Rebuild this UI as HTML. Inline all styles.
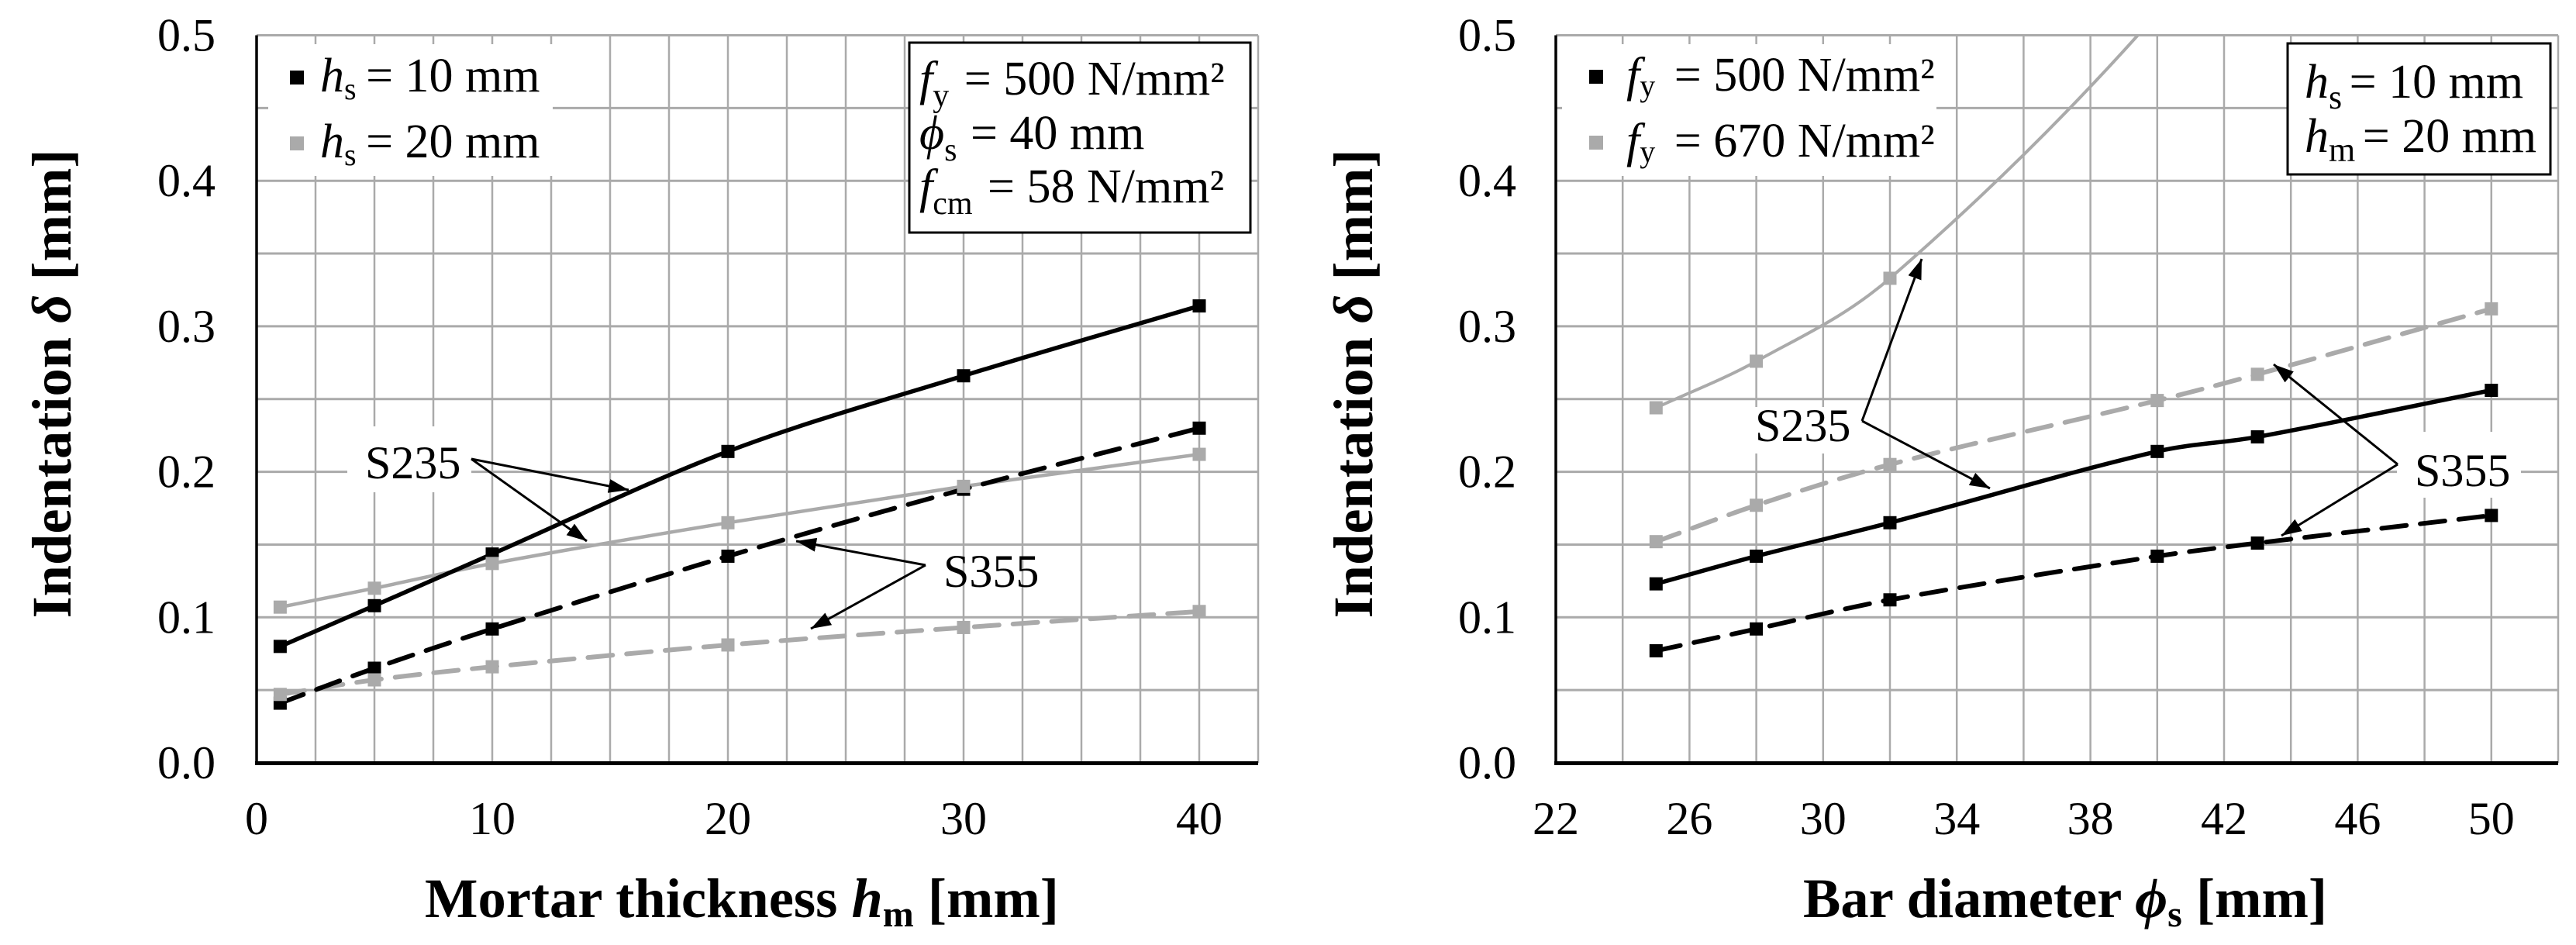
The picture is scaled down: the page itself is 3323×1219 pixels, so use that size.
<!DOCTYPE html>
<html lang="en">
<head>
<meta charset="utf-8">
<title>Indentation charts</title>
<style>
html,body{margin:0;padding:0;background:#fff;}
svg{display:block;}
text{font-family:"Liberation Serif","DejaVu Serif",serif;fill:#000;}
.tick{font-size:60px;}
.title{font-size:72.5px;font-weight:bold;}
.lab{font-size:62px;}
.ann{font-size:60px;}
.arrow{stroke:#000;stroke-width:3;fill:none;}
.box{fill:#fff;stroke:#000;stroke-width:3;}
.mask{fill:#fff;stroke:none;}
</style>
</head>
<body>
<svg id="figure" xmlns="http://www.w3.org/2000/svg" width="3323" height="1219" viewBox="0 0 3323 1219">
  <defs>
    <marker id="head" markerUnits="userSpaceOnUse" markerWidth="28" markerHeight="20" refX="26" refY="9" orient="auto">
      <polygon points="0,0 26,9 0,18" fill="#000"></polygon>
    </marker>
    <clipPath id="clip-left"><rect x="331" y="45" width="1294" height="940"></rect></clipPath>
    <clipPath id="clip-right"><rect x="2007" y="45" width="1295" height="940"></rect></clipPath>
  </defs>
  <rect x="0" y="0" width="3323" height="1219" fill="#fff"></rect>

  <g id="left-grid"></g>
  <g>
    <rect class="mask" x="346" y="57" width="367" height="170"></rect>
    <rect class="mask" x="448" y="550" width="160" height="85"></rect>
  </g>
  <g id="right-grid"></g>
  <g>
    <rect class="mask" x="2015" y="57" width="483" height="170"></rect>
    <rect class="mask" x="2250" y="525" width="150" height="60"></rect>
    <rect class="mask" x="3092" y="557" width="160" height="85"></rect>
  </g>
  <g id="left-axes"></g>
  <g id="right-axes"></g>
  <g id="left-series" clip-path="url(#clip-left)"></g>
  <g id="right-series" clip-path="url(#clip-right)"></g>

  <!-- Left legend -->
  <g>
    <rect x="374" y="91" width="18" height="18" fill="#000"></rect>
    <text class="lab" x="413" y="118"><tspan font-style="italic">h</tspan><tspan font-size="40" dy="10">s</tspan><tspan dy="-10" dx="-3"> = 10 mm</tspan></text>
    <rect x="374" y="176" width="18" height="18" fill="#aaa"></rect>
    <text class="lab" x="413" y="203"><tspan font-style="italic">h</tspan><tspan font-size="40" dy="10">s</tspan><tspan dy="-10" dx="-3"> = 20 mm</tspan></text>
  </g>
  <!-- Left info box -->
  <g>
    <rect class="box" x="1173" y="55" width="440" height="245"></rect>
    <text class="lab" x="1186" y="122"><tspan font-style="italic">f</tspan><tspan font-size="42" dy="15">y</tspan><tspan dy="-15" dx="4"> = 500 N/mm²</tspan></text>
    <text class="lab" x="1186" y="192"><tspan font-style="italic">ϕ</tspan><tspan font-size="42" dy="15">s</tspan><tspan dy="-15" dx="2"> = 40 mm</tspan></text>
    <text class="lab" x="1186" y="261"><tspan font-style="italic">f</tspan><tspan font-size="42" dy="15">cm</tspan><tspan dy="-15" dx="4"> = 58 N/mm²</tspan></text>
  </g>
  <!-- Left annotations -->
  <g>
    <text class="ann" x="471" y="617">S235</text>
    <line class="arrow" x1="608" y1="592" x2="811" y2="632" marker-end="url(#head)"></line>
    <line class="arrow" x1="608" y1="592" x2="757" y2="698" marker-end="url(#head)"></line>
    <text class="ann" x="1217" y="757">S355</text>
    <line class="arrow" x1="1194" y1="729" x2="1027" y2="698" marker-end="url(#head)"></line>
    <line class="arrow" x1="1194" y1="729" x2="1046" y2="811" marker-end="url(#head)"></line>
  </g>

  <!-- Right legend -->
  <g>
    <rect x="2050" y="90" width="18" height="18" fill="#000"></rect>
    <text class="lab" x="2098" y="117"><tspan font-style="italic">f</tspan><tspan font-size="40" dy="7">y</tspan><tspan dy="-7" dx="9"> = 500 N/mm²</tspan></text>
    <rect x="2050" y="175" width="18" height="18" fill="#aaa"></rect>
    <text class="lab" x="2098" y="202"><tspan font-style="italic">f</tspan><tspan font-size="40" dy="7">y</tspan><tspan dy="-7" dx="9"> = 670 N/mm²</tspan></text>
  </g>
  <!-- Right info box -->
  <g>
    <rect class="box" x="2951" y="56" width="339" height="169"></rect>
    <text class="lab" x="2973" y="126"><tspan font-style="italic">h</tspan><tspan font-size="44" dy="14">s</tspan><tspan dy="-14" dx="-6"> = 10 mm</tspan></text>
    <text class="lab" x="2973" y="196"><tspan font-style="italic">h</tspan><tspan font-size="44" dy="12">m</tspan><tspan dy="-12" dx="-6"> = 20 mm</tspan></text>
  </g>
  <!-- Right annotations -->
  <g>
    <text class="ann" x="2264" y="569">S235</text>
    <line class="arrow" x1="2402" y1="543" x2="2479" y2="334" marker-end="url(#head)"></line>
    <line class="arrow" x1="2402" y1="543" x2="2567" y2="630" marker-end="url(#head)"></line>
    <text class="ann" x="3115" y="627">S355</text>
    <line class="arrow" x1="3093" y1="599" x2="2933" y2="470" marker-end="url(#head)"></line>
    <line class="arrow" x1="3093" y1="599" x2="2943" y2="691" marker-end="url(#head)"></line>
  </g>

  <!-- Axis titles -->
  <text class="title" transform="translate(91,495) rotate(-90)" text-anchor="middle">Indentation <tspan font-style="italic">δ</tspan> [mm]</text>
  <text class="title" transform="translate(1770,495) rotate(-90)" text-anchor="middle">Indentation <tspan font-style="italic">δ</tspan> [mm]</text>
  <text class="title" x="957" y="1183" text-anchor="middle">Mortar thickness <tspan font-style="italic">h</tspan><tspan font-size="48" dy="12">m</tspan><tspan dy="-12"> [mm]</tspan></text>
  <text class="title" x="2664" y="1183" text-anchor="middle">Bar diameter <tspan font-style="italic">ϕ</tspan><tspan font-size="48" dy="12">s</tspan><tspan dy="-12"> [mm]</tspan></text>
</svg>

<script>
// Shared y axis
var yTickLabels = [0.0, 0.1, 0.2, 0.3, 0.4, 0.5];
var yGridValues = [0.05, 0.1, 0.15, 0.2, 0.25, 0.3, 0.35, 0.4, 0.45, 0.5];

// Left chart: mortar thickness
var leftCategories = [1, 5, 10, 20, 30, 40];
var leftS235Hs10 = [0.080, 0.108, 0.1435, 0.214, 0.266, 0.314];
var leftS355Hs10 = [0.041, 0.065, 0.092, 0.142, 0.188, 0.230];
var leftS235Hs20 = [0.107, 0.120, 0.137, 0.165, 0.190, 0.212];
var leftS355Hs20 = [0.047, 0.057, 0.066, 0.081, 0.093, 0.104];
var leftXTickLabels = [0, 10, 20, 30, 40];
var leftXGridValues = [2.5, 5, 7.5, 10, 12.5, 15, 17.5, 20, 22.5, 25, 27.5, 30, 32.5, 35, 37.5, 40, 42.5];

// Right chart: bar diameter
var rightCategories = [25, 28, 32, 40, 43, 50];
var rightS235Fy500 = [0.123, 0.142, 0.165, 0.214, 0.224, 0.256];
var rightS355Fy500 = [0.077, 0.092, 0.112, 0.142, 0.151, 0.170];
var rightS235Fy670 = [0.244, 0.276, 0.333, 0.515, 0.620, 1.000];
var rightS355Fy670 = [0.152, 0.177, 0.205, 0.249, 0.267, 0.312];
var rightXTickLabels = [22, 26, 30, 34, 38, 42, 46, 50];
var rightXGridValues = [24, 26, 28, 30, 32, 34, 36, 38, 40, 42, 44, 46, 48, 50, 52];

var NS = 'http://www.w3.org/2000/svg';
var yTop = 45.5, yBottom = 984;
var GRID = '#aaaaaa', BLACK = '#000000', GRAY = '#aaaaaa';

function yScale(v) { return yBottom - (v / 0.5) * (yBottom - yTop); }
function leftX(v) { return 331 + v * 30.4; }
function rightX(v) { return 2007 + (v - 22) * 43.1; }

function make(tag, parent, attrs) {
  var el = document.createElementNS(NS, tag);
  for (var k in attrs) { el.setAttribute(k, attrs[k]); }
  parent.appendChild(el);
  return el;
}

// Smooth curve using finite-difference slopes that respect uneven x spacing
function smoothPath(xs, ys, xFn) {
  var p = xs.map(function (x, i) { return [xFn(x), yScale(ys[i])]; });
  var slopes = p.map(function (pt, i) {
    var a = p[Math.max(i - 1, 0)], b = p[Math.min(i + 1, p.length - 1)];
    return (b[1] - a[1]) / (b[0] - a[0]);
  });
  var d = 'M' + p[0][0] + ' ' + p[0][1];
  for (var i = 0; i < p.length - 1; i++) {
    var dx = (p[i + 1][0] - p[i][0]) / 3;
    d += ' C' + (p[i][0] + dx) + ' ' + (p[i][1] + slopes[i] * dx) +
         ' ' + (p[i + 1][0] - dx) + ' ' + (p[i + 1][1] - slopes[i + 1] * dx) +
         ' ' + p[i + 1][0] + ' ' + p[i + 1][1];
  }
  return d;
}

function drawGridAndAxes(gridId, axesId, xFn, xMin, xMax, xGrid, xTicks, yLabelX) {
  var grid = document.getElementById(gridId);
  var axes = document.getElementById(axesId);
  var x0 = xFn(xMin), x1 = xFn(xMax);
  yGridValues.forEach(function (v) {
    var line = make('line', grid, { x1: x0, x2: x1, y1: yScale(v), y2: yScale(v), stroke: GRID, 'stroke-width': 3 });
    
    
  });
  xGrid.forEach(function (v) {
    var line = make('line', grid, { x1: xFn(v), x2: xFn(v), y1: yTop, y2: yBottom, stroke: GRID, 'stroke-width': 2.5 });
    
    
  });
  var yAxis = make('line', axes, { x1: x0, x2: x0, y1: yTop, y2: yBottom + 2, stroke: BLACK, 'stroke-width': 3.5 });
  
  
  var xAxis = make('line', axes, { x1: x0 - 2, x2: x1, y1: yBottom + 0.5, y2: yBottom + 0.5, stroke: BLACK, 'stroke-width': 5 });
  
  
  yTickLabels.forEach(function (v) {
    var t = make('text', axes, { 'class': 'tick', x: yLabelX, y: yScale(v) + 20, 'text-anchor': 'end' });
    t.textContent = v.toFixed(1);
    
    
  });
  xTicks.forEach(function (v) {
    var t = make('text', axes, { 'class': 'tick', x: xFn(v), y: 1076, 'text-anchor': 'middle' });
    t.textContent = String(v);
    
    
  });
}

function drawLine(groupId, xs, ys, xFn, color, width, dash, seriesName) {
  var group = document.getElementById(groupId);
  var path = make('path', group, { d: smoothPath(xs, ys, xFn), fill: 'none', stroke: color, 'stroke-width': width, 'stroke-linecap': 'round' });
  if (dash) { path.setAttribute('stroke-dasharray', dash); }
  
  
}

function drawPoints(groupId, xs, ys, xFn, color, seriesName) {
  var group = document.getElementById(groupId);
  xs.forEach(function (x, i) {
    var s = 17;
    var m = make('rect', group, { x: xFn(x) - s / 2, y: yScale(ys[i]) - s / 2, width: s, height: s, fill: color });
    
    
  });
}

drawGridAndAxes('left-grid', 'left-axes', leftX, 0, 42.5, leftXGridValues, leftXTickLabels, 278);
drawGridAndAxes('right-grid', 'right-axes', rightX, 22, 52, rightXGridValues, rightXTickLabels, 1956);

var DASH = '32 18';
drawLine('left-series', leftCategories, leftS355Hs20, leftX, GRAY, 6, DASH, 'left-s355-hs20');
drawLine('left-series', leftCategories, leftS235Hs20, leftX, GRAY, 4.5, null, 'left-s235-hs20');
drawLine('left-series', leftCategories, leftS355Hs10, leftX, BLACK, 6, DASH, 'left-s355-hs10');
drawLine('left-series', leftCategories, leftS235Hs10, leftX, BLACK, 5.5, null, 'left-s235-hs10');
drawPoints('left-series', leftCategories, leftS355Hs10, leftX, BLACK, 'left-s355-hs10');
drawPoints('left-series', leftCategories, leftS235Hs10, leftX, BLACK, 'left-s235-hs10');
drawPoints('left-series', leftCategories, leftS355Hs20, leftX, GRAY, 'left-s355-hs20');
drawPoints('left-series', leftCategories, leftS235Hs20, leftX, GRAY, 'left-s235-hs20');

drawLine('right-series', rightCategories, rightS355Fy670, rightX, GRAY, 6, DASH, 'right-s355-fy670');
drawLine('right-series', rightCategories, rightS235Fy670, rightX, GRAY, 4, null, 'right-s235-fy670');
drawLine('right-series', rightCategories, rightS355Fy500, rightX, BLACK, 6, DASH, 'right-s355-fy500');
drawLine('right-series', rightCategories, rightS235Fy500, rightX, BLACK, 5.5, null, 'right-s235-fy500');
drawPoints('right-series', rightCategories, rightS355Fy670, rightX, GRAY, 'right-s355-fy670');
drawPoints('right-series', rightCategories, rightS235Fy670, rightX, GRAY, 'right-s235-fy670');
drawPoints('right-series', rightCategories, rightS355Fy500, rightX, BLACK, 'right-s355-fy500');
drawPoints('right-series', rightCategories, rightS235Fy500, rightX, BLACK, 'right-s235-fy500');
</script>
</body>
</html>
